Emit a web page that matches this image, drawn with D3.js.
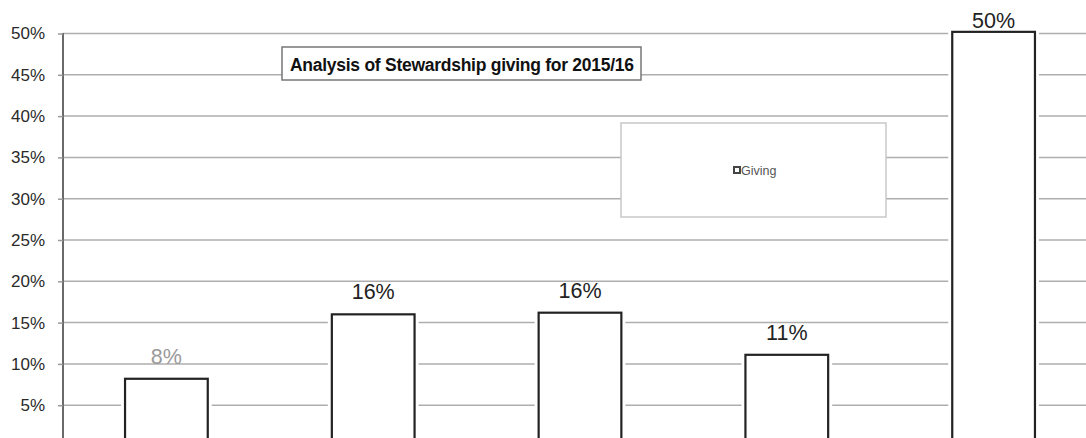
<!DOCTYPE html>
<html>
<head>
<meta http-equiv="Content-type" content="text/html; charset=utf-8">
<title>Stewardship giving</title>
<script src="https://cdn.jsdelivr.net/npm/d3@7"></script>
<style>
  body { margin:0; background:#fff; }
  svg { display:block; font-family:"Liberation Sans", Arial, sans-serif; }
</style>
</head>
<body>
<script>
// data (category labels sit below the crop)
var categories = ["Band 1", "Band 2", "Band 3", "Band 4", "Band 5"];
var giving = [0.082, 0.16, 0.162, 0.111, 0.502];
var valueLabels = ["8%", "16%", "16%", "11%", "50%"];
var yTicks = [0.05, 0.10, 0.15, 0.20, 0.25, 0.30, 0.35, 0.40, 0.45, 0.50];
var title = "Analysis of Stewardship giving for 2015/16";
var seriesName = "Giving";

var W = 1086, H = 438;
var svg = d3.select("body").append("svg").attr("width", W).attr("height", H);

// plot area runs past the bottom/right of the photo, like the scan
var x = d3.scaleBand().domain(categories).range([63, 1097]).paddingInner(0.6).paddingOuter(0.3);
var y = d3.scaleLinear().domain([0, 0.5]).range([446.5, 33.5]);

// gridlines
svg.append("g")
  .selectAll("line").data(yTicks).enter().append("line")
  .attr("x1", 63).attr("x2", W)
  .attr("y1", function(d){ return y(d); }).attr("y2", function(d){ return y(d); })
  .attr("stroke", "#aeaeae").attr("stroke-width", 1.5);

// y axis
var yAxis = d3.axisLeft(y).tickValues(yTicks).tickSize(5).tickPadding(13)
  .tickFormat(d3.format(".0%"));
var ga = svg.append("g").attr("transform", "translate(63,0)").call(yAxis);
ga.select(".domain").attr("stroke", "#6a6a6a").attr("stroke-width", 2).attr("d", "M0,33V" + H);
ga.selectAll(".tick line").attr("stroke", "#999").attr("stroke-width", 1.5);
ga.selectAll(".tick text").attr("fill", "#2a2a2a").style("font-size", "17px")
  .attr("font-family", "Liberation Sans, Arial, sans-serif");

// bars: white halo breaks the gridlines, then the outlined bar
var bars = svg.append("g").selectAll("g").data(giving).enter().append("g");
bars.append("rect")
  .attr("x", function(d, i){ return x(categories[i]) - 4; })
  .attr("y", function(d){ return y(d) - 1; })
  .attr("width", x.bandwidth() + 8)
  .attr("height", function(d){ return H - y(d) + 2; })
  .attr("fill", "#fff");
bars.append("rect")
  .attr("x", function(d, i){ return x(categories[i]); })
  .attr("y", function(d){ return y(d); })
  .attr("width", x.bandwidth())
  .attr("height", function(d){ return H + 10 - y(d); })
  .attr("fill", "#fff").attr("stroke", "#222").attr("stroke-width", 2.2);

bars.append("text")
  .attr("x", function(d, i){ return x(categories[i]) + x.bandwidth() / 2; })
  .attr("y", function(d){ return Math.max(y(d) - 15, 28); })
  .attr("text-anchor", "middle")
  .style("font-size", "21.5px")
  .attr("fill", function(d, i){ return i === 0 ? "#9a9a9a" : "#222"; })
  .text(function(d, i){ return valueLabels[i]; });

// title box
var tg = svg.append("g");
tg.append("rect").attr("x", 282).attr("y", 47).attr("width", 359).attr("height", 33)
  .attr("fill", "#fff").attr("stroke", "#777").attr("stroke-width", 1.5);
tg.append("text").attr("x", 290).attr("y", 71)
  .attr("textLength", 344).attr("lengthAdjust", "spacing")
  .style("font-size", "17.5px").style("font-weight", "bold").attr("fill", "#111")
  .text(title);

// legend box
var lg = svg.append("g");
lg.append("rect").attr("x", 621).attr("y", 123).attr("width", 265).attr("height", 94)
  .attr("fill", "#fff").attr("stroke", "#c8c8c8").attr("stroke-width", 1.5);
lg.append("rect").attr("x", 734).attr("y", 167).attr("width", 6).attr("height", 6)
  .attr("fill", "#fff").attr("stroke", "#444").attr("stroke-width", 2);
lg.append("text").attr("x", 741).attr("y", 175)
  .style("font-size", "12.5px").attr("fill", "#555").text(seriesName);
</script>
</body>
</html>
